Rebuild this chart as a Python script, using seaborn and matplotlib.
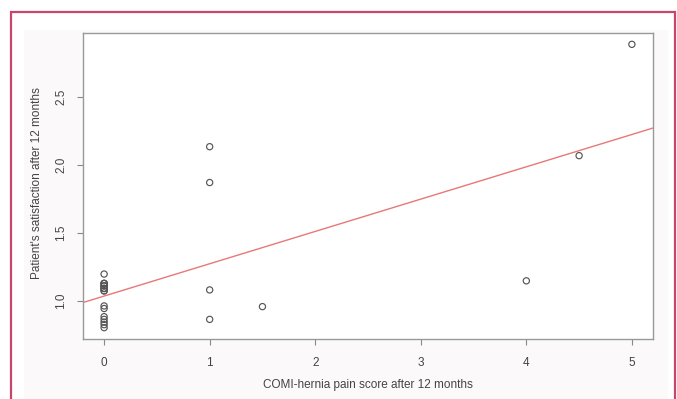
import matplotlib
matplotlib.use("Agg")
import matplotlib.pyplot as plt
import seaborn as sns
import pandas as pd
from matplotlib.patches import Rectangle

# ---- data ----
pain_score = [0, 0, 0, 0, 0, 0, 0, 0, 0, 0, 0, 0,
              0, 0, 0, 0, 0, 0, 0,
              1, 1, 1, 1, 1.5, 4, 4.5, 5]
satisfaction = [1.198, 1.129, 1.111, 1.092, 1.074, 0.963, 0.944, 0.884, 0.864, 0.844, 0.825, 0.803,
                1.129, 1.111, 1.092, 1.074, 1.129, 1.111, 1.092,
                2.136, 1.872, 1.081, 0.864, 0.958, 1.148, 2.07, 2.89]
x_ticks = [0, 1, 2, 3, 4, 5]
y_ticks = [1.0, 1.5, 2.0, 2.5]
x_label = "COMI-hernia pain score after 12 months"
y_label = "Patient's satisfaction after 12 months"

df = pd.DataFrame({"pain": pain_score, "sat": satisfaction})

sns.set_theme(style="white")
plt.rcParams["font.family"] = ["Liberation Sans", "DejaVu Sans"]

W, H = 677, 399
fig = plt.figure(figsize=(W / 100, H / 100), dpi=100)
fig.patch.set_facecolor("white")

# outer frame and light inner panel
fig.patches.append(Rectangle((24 / W, -0.05), (668 - 24) / W, (H - 30) / H + 0.05,
                             transform=fig.transFigure, facecolor="#fbf9fa",
                             edgecolor="none", zorder=-2))
fig.patches.append(Rectangle((11 / W, -0.05), (675 - 11) / W, (H - 12) / H + 0.05,
                             transform=fig.transFigure, fill=False,
                             edgecolor="#c8466a", lw=1.6, zorder=-1))

left, right, top, bottom = 83, 653, 33, 339
ax = fig.add_axes([left / W, 1 - bottom / H, (right - left) / W, (bottom - top) / H])
ax.set_zorder(2)
ax.set_facecolor("white")

xmin, xmax = min(pain_score), max(pain_score)
ymin, ymax = min(satisfaction), max(satisfaction)
xpad, ypad = 0.04 * (xmax - xmin), 0.04 * (ymax - ymin)
ax.set_xlim(xmin - xpad, xmax + xpad)
ax.set_ylim(ymin - ypad, ymax + ypad)

sns.scatterplot(data=df, x="pain", y="sat", ax=ax, marker="o", s=20,
                facecolors="none", edgecolor="#555555", linewidth=0.85, zorder=3)
sns.regplot(data=df, x="pain", y="sat", ax=ax, scatter=False, ci=None,
            truncate=False, color="#e87878", line_kws={"lw": 1.0})

ax.set_xlim(xmin - xpad, xmax + xpad)
ax.set_ylim(ymin - ypad, ymax + ypad)

ax.set_xticks(x_ticks)
ax.set_xticklabels([str(t) for t in x_ticks])
ax.set_yticks(y_ticks)
ax.set_yticklabels([f"{t:.1f}" for t in y_ticks], rotation=90, va="center")
ax.tick_params(axis="both", direction="out", length=4.3, width=0.8, color="#888888",
               labelsize=8.5, labelcolor="#444444")
ax.tick_params(axis="x", pad=9)
ax.tick_params(axis="y", pad=7)
ax.tick_params(bottom=True, left=True)

for s in ax.spines.values():
    s.set_color("#999999")
    s.set_linewidth(1.0)

ax.set_xlabel(x_label, fontsize=8.5, color="#444444")
ax.set_ylabel(y_label, fontsize=8.5, color="#444444")
ax.xaxis.set_label_coords(0.5, -0.150)
ax.xaxis.label.set_va("center")
ax.yaxis.set_label_coords(-0.0807, 0.51)
ax.yaxis.label.set_va("center")

fig.savefig("out.png", dpi=100)
